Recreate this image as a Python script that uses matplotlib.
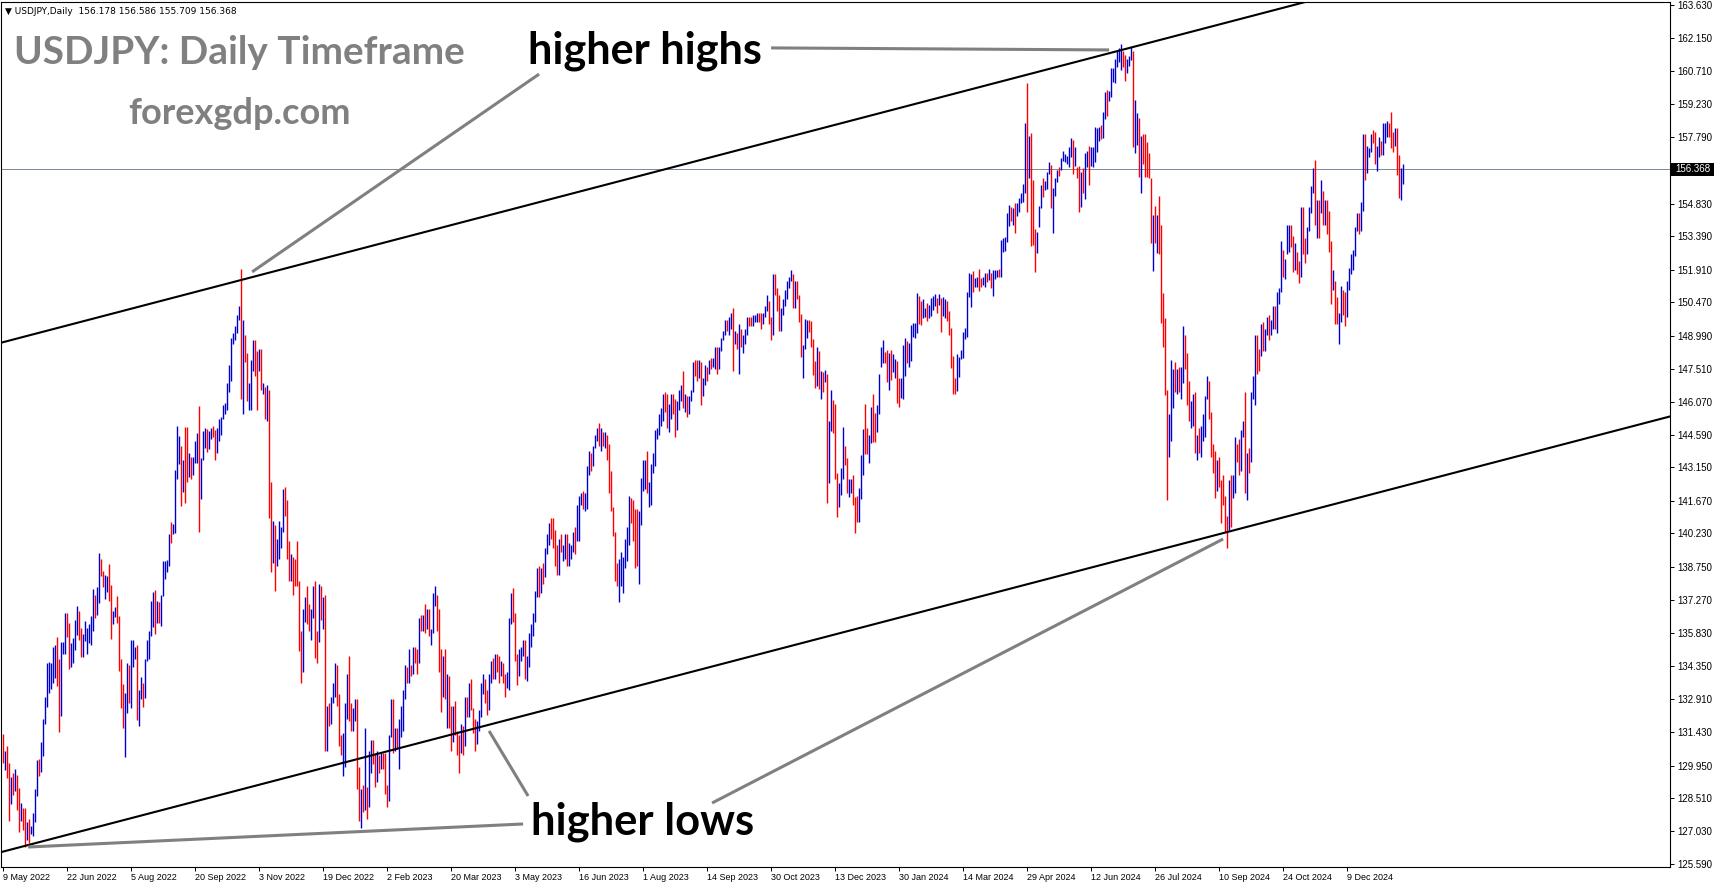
import matplotlib
matplotlib.use("Agg")
import matplotlib.pyplot as plt
import pandas as pd

# ---- daily USDJPY bars (9 May 2022 .. 20 Jan 2025) ----
highs = [
    131.34, 130.60, 130.80, 130.04, 129.45, 129.60, 129.80, 129.53, 128.97, 128.27,
    128.05, 128.05, 127.46, 127.56, 127.27, 127.83, 128.90, 130.19, 130.22, 131.00,
    132.00, 133.00, 134.50, 134.55, 134.47, 135.20, 135.28, 135.62, 134.65, 135.43,
    135.43, 136.72, 136.72, 136.27, 135.36, 135.58, 136.39, 137.01, 136.80, 136.02,
    135.77, 136.36, 136.02, 136.21, 136.57, 137.75, 137.50, 137.84, 139.34, 139.08,
    138.58, 138.38, 138.34, 138.87, 137.94, 136.80, 136.95, 137.45, 136.57, 134.65,
    133.56, 133.14, 134.50, 134.40, 135.50, 135.53, 135.18, 135.28, 133.29, 133.85,
    133.59, 134.65, 135.50, 135.92, 137.25, 137.65, 137.72, 137.25, 137.20, 137.50,
    139.02, 139.02, 139.05, 140.20, 140.75, 140.64, 143.03, 144.98, 144.54, 144.10,
    143.48, 144.92, 144.92, 143.77, 143.62, 143.62, 144.33, 144.69, 145.87, 143.55,
    144.78, 144.88, 144.84, 144.78, 144.90, 145.00, 144.80, 144.90, 145.30, 145.40,
    145.90, 146.00, 146.90, 147.70, 148.90, 149.10, 149.40, 149.90, 150.30, 151.95,
    149.70, 149.00, 148.20, 146.90, 147.90, 148.80, 148.80, 148.30, 148.40, 148.40,
    146.90, 146.70, 146.80, 146.60, 142.50, 140.80, 140.60, 140.00, 140.80, 140.50,
    142.20, 142.30, 141.70, 139.90, 139.30, 139.20, 139.10, 139.90, 138.10, 135.90,
    136.90, 137.40, 137.90, 137.10, 136.90, 137.90, 138.10, 135.90, 138.00, 137.90,
    137.40, 137.50, 132.60, 132.70, 133.00, 133.60, 134.50, 134.40, 133.10, 131.30,
    131.40, 132.70, 134.00, 134.80, 132.70, 132.50, 132.90, 132.90, 129.90, 128.90,
    129.10, 131.60, 129.00, 130.60, 131.10, 131.10, 130.50, 130.60, 130.40, 130.50,
    130.50, 130.50, 129.10, 131.30, 132.90, 132.90, 131.60, 131.60, 132.00, 132.60,
    133.30, 134.40, 134.30, 135.10, 134.40, 135.20, 135.20, 135.10, 136.50, 136.60,
    136.60, 137.10, 136.90, 136.90, 136.00, 137.60, 137.90, 137.50, 136.90, 135.10,
    134.80, 135.10, 134.00, 133.90, 132.60, 132.60, 132.80, 131.50, 131.30, 131.80,
    131.70, 133.00, 133.00, 133.60, 133.80, 132.50, 132.00, 131.90, 132.40, 133.60,
    134.00, 133.80, 133.30, 134.00, 134.60, 134.70, 134.90, 134.90, 134.80, 134.60,
    134.50, 134.00, 134.10, 136.50, 137.60, 137.80, 136.70, 134.90, 135.10, 135.20,
    135.50, 135.50, 134.80, 135.80, 136.20, 136.70, 137.70, 138.70, 138.80, 138.70,
    138.90, 139.60, 140.20, 140.70, 140.90, 140.90, 140.40, 139.70, 140.00, 140.20,
    139.70, 140.20, 140.20, 139.80, 139.70, 140.30, 140.50, 141.50, 141.90, 142.00,
    142.10, 142.00, 143.20, 143.90, 143.80, 144.10, 144.60, 144.90, 145.10, 144.90,
    144.70, 144.70, 144.60, 144.20, 143.00, 141.40, 140.30, 138.90, 139.10, 139.40,
    139.20, 140.00, 140.50, 141.90, 141.80, 141.70, 141.30, 141.30, 141.20, 142.70,
    143.50, 143.50, 143.90, 142.50, 143.30, 143.80, 144.80, 144.90, 145.50, 145.80,
    146.40, 146.50, 146.40, 145.95, 146.40, 146.40, 146.20, 146.10, 146.60, 146.80,
    147.40, 146.40, 146.30, 146.30, 146.60, 147.80, 147.90, 147.90, 147.90, 147.80,
    147.10, 147.70, 147.60, 147.90, 148.00, 148.00, 148.50, 148.50, 148.50, 148.90,
    149.20, 149.70, 149.70, 149.80, 150.00, 150.20, 149.20, 149.10, 149.50, 149.30,
    149.00, 149.30, 149.80, 149.80, 149.80, 149.90, 149.90, 150.00, 150.00, 150.00,
    150.00, 150.30, 150.80, 150.50, 149.80, 151.70, 151.70, 151.10, 150.80, 150.20,
    150.60, 151.00, 151.40, 151.60, 151.90, 151.70, 151.40, 151.40, 150.80, 149.95,
    148.57, 149.72, 149.68, 149.68, 149.63, 148.82, 147.88, 148.47, 148.32, 147.44,
    147.39, 147.47, 147.29, 145.22, 146.58, 146.14, 145.96, 142.92, 142.48, 143.11,
    144.96, 144.10, 143.55, 142.62, 142.62, 142.82, 141.83, 141.88, 142.22, 143.70,
    144.84, 145.96, 144.88, 144.59, 145.84, 146.40, 145.58, 145.92, 147.29, 148.47,
    148.79, 148.28, 148.35, 148.23, 148.35, 148.17, 147.94, 147.86, 147.13, 147.10,
    148.57, 148.87, 148.77, 148.65, 149.46, 149.56, 149.53, 150.89, 150.74, 150.54,
    150.60, 150.20, 150.45, 150.34, 150.64, 150.74, 150.83, 150.64, 150.83, 150.64,
    150.68, 150.60, 150.54, 150.09, 149.31, 148.09, 147.10, 148.17, 148.03, 148.35,
    149.16, 149.31, 150.93, 151.78, 151.72, 151.86, 151.53, 151.57, 151.92, 151.53,
    151.57, 151.75, 151.78, 151.92, 151.78, 151.89, 151.89, 151.89, 151.95, 153.22,
    153.29, 153.37, 154.43, 154.77, 154.67, 154.62, 154.84, 154.84, 155.07, 155.32,
    155.70, 158.42, 160.16, 157.83, 157.94, 155.90, 153.69, 153.59, 154.73, 155.66,
    155.95, 155.85, 156.25, 156.69, 156.54, 155.51, 155.95, 156.32, 156.47, 156.84,
    157.18, 157.03, 156.94, 157.35, 157.72, 157.65, 157.35, 156.47, 156.50, 156.25,
    156.39, 157.06, 157.18, 157.38, 157.32, 157.35, 158.21, 158.17, 158.21, 158.30,
    158.90, 159.79, 159.86, 159.80, 160.82, 160.82, 161.22, 161.60, 161.71, 161.90,
    161.60, 161.41, 161.26, 161.37, 161.78, 161.60, 159.42, 158.83, 158.61, 157.83,
    157.90, 157.90, 157.57, 157.06, 155.95, 154.33, 154.73, 154.33, 155.17, 153.88,
    150.86, 149.75, 146.60, 145.50, 147.90, 147.50, 147.80, 147.50, 147.60, 147.60,
    149.40, 149.00, 148.20, 147.00, 146.10, 146.40, 146.50, 144.60, 144.90, 145.00,
    145.50, 146.30, 147.20, 147.00, 145.60, 144.20, 143.90, 143.50, 143.60, 142.60,
    142.80, 141.90, 141.00, 142.60, 142.80, 142.80, 144.50, 144.20, 144.40, 144.80,
    145.20, 146.50, 143.80, 144.00, 146.50, 147.20, 149.00, 149.00, 148.40, 149.50,
    149.60, 149.30, 149.80, 149.90, 149.70, 150.30, 150.30, 150.90, 151.10, 153.20,
    152.80, 152.40, 153.90, 153.90, 153.90, 153.40, 153.10, 152.70, 152.30, 154.70,
    154.70, 153.30, 153.80, 154.70, 155.60, 156.40, 156.75, 155.00, 155.00, 155.90,
    155.40, 155.00, 155.00, 154.50, 153.20, 151.90, 151.40, 150.70, 150.00, 151.20,
    151.00, 150.90, 151.40, 152.00, 152.60, 152.80, 153.80, 154.40, 154.40, 154.90,
    157.90, 157.90, 157.40, 157.30, 157.90, 158.10, 158.00, 157.40, 157.80, 157.60,
    158.40, 158.40, 158.50, 158.40, 158.87, 158.00, 158.20, 158.20, 157.00, 156.40,
    156.586,
]

lows = [
    130.07, 129.75, 129.40, 127.50, 128.24, 128.64, 128.80, 127.98, 127.02, 127.50,
    127.09, 126.35, 126.65, 126.50, 126.90, 126.82, 127.46, 128.60, 129.48, 129.66,
    130.37, 131.80, 132.55, 133.14, 133.32, 133.59, 133.81, 133.47, 131.45, 132.14,
    134.90, 134.89, 135.65, 134.24, 134.32, 134.50, 135.06, 135.73, 135.50, 134.74,
    134.74, 135.48, 134.90, 135.39, 135.28, 135.92, 136.47, 136.61, 137.16, 138.34,
    137.87, 137.34, 137.65, 137.25, 135.54, 136.21, 136.51, 136.27, 134.15, 132.48,
    131.60, 130.34, 132.26, 132.73, 132.48, 134.32, 134.65, 131.96, 131.70, 132.88,
    132.52, 132.92, 134.59, 134.65, 135.68, 136.10, 135.77, 136.27, 136.27, 136.13,
    137.45, 138.19, 138.53, 138.78, 139.82, 140.20, 140.23, 142.62, 143.30, 141.44,
    142.07, 141.59, 142.52, 142.74, 142.62, 142.81, 143.33, 143.33, 140.30, 141.74,
    143.48, 143.99, 143.85, 143.95, 144.40, 144.50, 143.50, 143.80, 144.30, 144.60,
    145.30, 145.50, 145.70, 146.50, 147.00, 148.60, 148.80, 149.10, 149.70, 146.20,
    145.50, 147.80, 146.10, 145.70, 145.70, 147.40, 147.20, 145.70, 147.40, 146.60,
    146.40, 145.30, 145.20, 140.90, 138.50, 138.90, 137.70, 138.80, 139.10, 139.60,
    140.30, 141.00, 139.10, 138.10, 138.10, 137.50, 137.90, 137.90, 135.00, 133.60,
    134.10, 136.30, 136.20, 135.90, 135.50, 136.50, 134.70, 134.50, 135.40, 136.40,
    136.00, 130.60, 130.60, 131.70, 131.80, 132.70, 133.00, 132.60, 130.80, 130.40,
    129.50, 129.90, 132.00, 131.90, 131.50, 131.50, 131.90, 128.90, 127.50, 127.20,
    127.90, 128.00, 127.60, 128.10, 129.60, 130.00, 129.00, 129.20, 129.60, 129.80,
    129.80, 128.70, 128.10, 128.40, 131.20, 130.50, 130.60, 130.70, 129.80, 131.20,
    131.50, 132.90, 133.60, 133.60, 133.90, 134.00, 134.50, 134.00, 134.50, 135.90,
    135.90, 135.80, 136.00, 135.70, 135.30, 135.80, 137.00, 135.90, 134.10, 132.30,
    133.00, 132.90, 131.60, 131.60, 130.60, 131.00, 131.30, 130.40, 129.60, 130.50,
    130.40, 130.80, 132.10, 132.10, 132.40, 131.40, 130.60, 130.90, 131.50, 132.10,
    133.10, 132.70, 132.20, 132.40, 133.60, 133.80, 133.80, 134.10, 133.60, 133.90,
    133.60, 133.00, 133.40, 133.30, 136.20, 136.30, 134.60, 133.50, 133.90, 134.60,
    134.80, 133.80, 133.70, 134.30, 135.20, 135.70, 136.30, 137.40, 137.40, 137.60,
    138.00, 138.30, 139.30, 139.70, 140.00, 139.60, 138.80, 138.40, 138.40, 139.40,
    139.00, 139.10, 138.80, 138.80, 139.10, 139.40, 139.30, 139.90, 139.90, 141.50,
    141.30, 141.20, 141.30, 142.80, 143.00, 143.20, 144.00, 144.30, 144.10, 143.90,
    144.10, 144.00, 143.50, 142.00, 141.20, 140.10, 138.10, 137.90, 137.20, 137.90,
    137.60, 138.70, 139.00, 139.70, 140.70, 139.90, 138.70, 138.80, 138.00, 140.60,
    142.10, 142.20, 142.00, 141.40, 141.50, 142.90, 143.20, 144.40, 144.60, 145.00,
    145.20, 145.60, 144.90, 144.70, 145.30, 145.50, 144.50, 144.80, 145.70, 146.10,
    145.80, 145.60, 145.40, 145.50, 146.10, 146.50, 147.20, 147.00, 147.10, 145.90,
    146.30, 146.80, 147.00, 147.30, 147.50, 147.60, 147.50, 147.30, 147.50, 148.30,
    148.80, 149.00, 149.20, 149.00, 149.30, 147.40, 148.60, 148.40, 147.30, 148.50,
    148.20, 148.60, 149.00, 149.40, 149.40, 149.40, 149.60, 149.60, 149.60, 149.30,
    149.50, 149.80, 150.10, 149.50, 148.80, 149.00, 150.80, 150.10, 149.20, 149.20,
    149.90, 150.30, 150.60, 151.10, 151.40, 150.20, 150.20, 150.60, 149.60, 148.06,
    147.10, 148.38, 148.87, 149.16, 148.50, 147.24, 146.65, 146.76, 146.61, 146.18,
    146.51, 146.95, 141.59, 142.45, 144.78, 144.69, 142.62, 140.94, 141.38, 141.93,
    142.62, 143.26, 142.00, 141.83, 142.03, 141.49, 140.23, 140.75, 140.75, 141.74,
    142.82, 143.75, 143.75, 143.36, 144.25, 144.29, 144.29, 144.74, 145.52, 147.61,
    147.79, 147.76, 146.95, 146.58, 147.02, 147.39, 147.10, 145.99, 145.84, 146.21,
    146.17, 147.20, 147.76, 147.58, 147.88, 148.91, 148.87, 149.09, 149.50, 149.46,
    149.75, 149.83, 149.65, 149.75, 149.86, 150.12, 150.30, 150.00, 150.34, 149.16,
    149.86, 149.75, 149.65, 149.02, 147.54, 146.40, 146.40, 146.55, 147.17, 147.94,
    147.98, 148.82, 148.91, 150.68, 150.24, 150.93, 151.13, 151.16, 150.98, 151.13,
    151.23, 151.16, 151.38, 151.45, 151.08, 150.74, 151.48, 151.60, 151.60, 151.60,
    152.70, 152.75, 153.15, 153.84, 154.08, 153.88, 153.54, 154.28, 154.47, 154.84,
    154.92, 155.30, 154.47, 155.95, 152.95, 153.00, 151.82, 152.66, 153.78, 154.62,
    155.14, 155.43, 155.46, 156.14, 154.62, 153.54, 155.17, 155.80, 156.05, 156.32,
    156.73, 156.69, 156.59, 156.47, 156.90, 156.14, 156.50, 155.95, 154.47, 154.70,
    155.32, 155.06, 156.47, 155.66, 156.50, 156.47, 156.69, 157.13, 157.62, 157.70,
    157.72, 158.56, 158.71, 159.40, 159.57, 160.23, 160.16, 160.90, 161.12, 160.75,
    160.87, 160.28, 160.63, 160.93, 161.19, 157.35, 157.09, 157.43, 156.02, 155.32,
    156.60, 156.00, 156.02, 155.95, 153.07, 151.86, 153.07, 152.63, 152.60, 149.56,
    148.50, 146.36, 141.70, 143.60, 144.30, 145.80, 146.50, 146.40, 146.50, 146.20,
    146.90, 147.50, 145.90, 145.20, 144.90, 145.00, 143.80, 143.50, 143.80, 143.60,
    144.30, 144.50, 146.20, 145.30, 143.60, 142.90, 141.80, 142.10, 142.30, 140.70,
    141.50, 140.30, 139.60, 140.40, 140.50, 141.80, 142.00, 143.40, 142.80, 143.00,
    144.50, 142.00, 141.70, 142.90, 143.40, 146.20, 145.90, 147.30, 147.40, 148.10,
    148.30, 148.30, 149.00, 148.80, 149.00, 149.30, 149.30, 149.10, 150.40, 150.90,
    151.60, 151.50, 152.60, 152.70, 152.90, 151.80, 151.90, 151.70, 151.30, 151.60,
    152.60, 152.20, 152.60, 153.60, 154.40, 155.30, 153.90, 153.30, 153.30, 154.40,
    153.90, 153.90, 153.50, 152.70, 150.40, 151.00, 149.50, 149.50, 148.60, 149.60,
    149.90, 149.40, 149.80, 151.00, 151.70, 151.90, 152.50, 153.60, 153.50, 153.60,
    154.50, 155.90, 156.20, 156.90, 157.10, 157.50, 156.60, 156.30, 156.90, 157.00,
    157.00, 157.50, 157.80, 157.80, 157.30, 157.10, 157.40, 156.10, 155.10, 155.00,
    155.709,
]

# b = up bar (blue), r = down bar (red), ten bars per group
bar_dir = (
    "rbrrbrbrrb rrbrbbbbrb bbbbbbbrrb bbrrbbbbrr bbbbbbrbbr rbbrrbbrrr rbbrbbbrbb "
    "rbbbbbrbrb bbbbrbbbbr brrbrbbbrb bbrbbrrbbb bbbbbbbbbr brrbbbrrbr brbrrbrbbb "
    "brrrbrrrrr bbrrbbrrbr brbrbbbrrr bbbrrbbrrb rbrbbrrbrb rrrbbrbrbb bbrbrbrrbr "
    "brbrbbbrrr brbrrbrrrb rbrbrrrbbb brrbbrbrrb rrbbbrrrbb brbbbbbbrb rbbbrrrrbr "
    "bbrbbbrbbb rbbbrbbbrb rbrrrrrrbb bbbbrrrrbb bbrbbbbbbb brrbbrrbbb rbrbbbrrbr "
    "bbrbrbbrbb bbrbbrbrbr bbbrrbbbrr bbbrrbrrrb bbbbbrbrrr bbbrrrrbrb rbrbbrrrbb "
    "brrbbrrrbb brrbbrrbbb brrbrbbrrb bbrbbbbbrr bbrbbbbrbr bbrrrrrbbb bbbbbrbbrr "
    "bbrbrbbbrb bbbbrbrbbb bbrbrrrbbb rbbbrbbbrb bbbbbrbrrb rbbrbbbbbr bbrbbbbbbb "
    "rrbbbrbbrb rrrrrbrbrr rrrbbbrbrb brrrbbrbrb bbbrrrrbrr rrrbrbbrrb brbrbbbrrb "
    "rbbrbbrbbb rbbbrrbrrb rrbbbbrbrb rbrrrbrrbb rrbbbbbbrb brbbbrrbbr bbbrrrbrrbb"
).replace(" ", "")

# chart objects drawn on the chart: (bar index, price) anchor points
upper_channel = [(0, 148.70), (650, 163.74)]
lower_channel = [(0, 126.14), (833, 145.40)]
pointer_lines = [
    [(383.9, 161.73), (552.9, 161.64)],
    [(267.9, 160.57), (124.4, 151.81)],
    [(12.4, 126.34), (259.9, 127.36)],
    [(262.4, 128.60), (242.9, 131.48)],
    [(354.4, 128.29), (609.9, 139.98)],
]

last_price = 156.368
price_ticks = [163.630, 162.150, 160.710, 159.230, 157.790, 154.830, 153.390,
               151.910, 150.470, 148.990, 147.510, 146.070, 144.590, 143.150,
               141.670, 140.230, 138.750, 137.270, 135.830, 134.350, 132.910,
               131.430, 129.950, 128.510, 127.030, 125.590]
holidays = ["2022-12-26", "2023-12-25", "2024-01-01", "2024-12-25", "2025-01-01"]

dates = pd.bdate_range("2022-05-09", "2025-01-20")
dates = dates[~dates.isin(pd.to_datetime(holidays))]
n = len(highs)

# ---- figure layout (pixels of the 1714x888 output) ----
W, H = 1714, 888
plt.rcParams["font.family"] = ["Liberation Sans", "DejaVu Sans"]
fig = plt.figure(figsize=(W / 100, H / 100), dpi=100)
fig.patch.set_facecolor("white")
left_px, right_px, top_px, bottom_px = 1, 1670, 2, 867
ax = fig.add_axes([left_px / W, 1 - bottom_px / H,
                   (right_px - left_px) / W, (bottom_px - top_px) / H])

ax.set_xlim(-1.15, 833.35)
ax.set_ylim(125.455, 163.763)

# price bars
cols = ["#0000cd" if c == "b" else "#ff0000" for c in bar_dir]
ax.vlines(range(n), lows, highs, colors=cols, linewidth=1.0,
          antialiased=True, zorder=3)

# last price line
ax.axhline(last_price, color="#7d8c9b", linewidth=0.72, zorder=2)


def ray(p0, p1, x_to):
    slope = (p1[1] - p0[1]) / (p1[0] - p0[0])
    return [p0[0] - 5, x_to], [p0[1] - 5 * slope, p0[1] + (x_to - p0[0]) * slope]


xs, ys = ray(*upper_channel, 900)
ax.plot(xs, ys, color="black", linewidth=1.5, zorder=4)
xs, ys = ray(*lower_channel, 900)
ax.plot(xs, ys, color="black", linewidth=1.5, zorder=4)
for seg in pointer_lines:
    ax.plot([seg[0][0], seg[1][0]], [seg[0][1], seg[1][1]],
            color="#808080", linewidth=2.2, solid_capstyle="butt", zorder=4)

# axes / ticks
for s in ax.spines.values():
    s.set_linewidth(0.8)
    s.set_color("black")
ax.yaxis.tick_right()
ax.set_yticks(price_ticks)
ax.set_yticklabels([f"{v:.3f}" for v in price_ticks])
ax.tick_params(axis="y", direction="out", length=3, width=0.7, pad=2,
               labelsize=7, colors="black")
xpos = list(range(0, n, 32))
ax.set_xticks(xpos)
ax.set_xticklabels([f"{dates[i].day} {dates[i]:%b %Y}" for i in xpos])
for lab in ax.get_xticklabels():
    lab.set_horizontalalignment("left")
ax.tick_params(axis="x", direction="out", length=3, width=0.7, pad=1,
               labelsize=6.5, colors="black")

# last price tag on the axis
fig.patches.append(plt.Rectangle((right_px / W, 1 - 176 / H), (W - right_px) / W, 13 / H,
                                 transform=fig.transFigure, facecolor="black",
                                 edgecolor="none", zorder=5))
fig.text((right_px + 5) / W, 1 - 169.5 / H, f"{last_price:.3f}", color="white",
         fontsize=7, va="center", ha="left", zorder=6)

# header line
fig.text(5 / W, 1 - 11 / H, "\u25bc USDJPY,Daily  156.178 156.586 155.709 156.368",
         fontsize=6.5, va="center", ha="left", family=["DejaVu Sans"])

# big labels, sized to the widths they take in the picture
renderer = fig.canvas.get_renderer()


def fit_text(x, baseline, width, s, color):
    t = fig.text(x / W, 1 - baseline / H, s, fontsize=30, fontweight="bold",
                 color=color, ha="left", va="baseline", family=["Lato", "DejaVu Sans"])
    w = t.get_window_extent(renderer).width
    t.set_fontsize(30 * width / w)
    return t


fit_text(14, 64.5, 451, "USDJPY: Daily Timeframe", "#808080")
fit_text(128, 123.5, 222, "forexgdp.com", "#808080")
fit_text(528, 63.5, 234, "higher highs", "black")
fit_text(531, 834, 223, "higher lows", "black")

fig.savefig("out.png", dpi=100, facecolor="white")
